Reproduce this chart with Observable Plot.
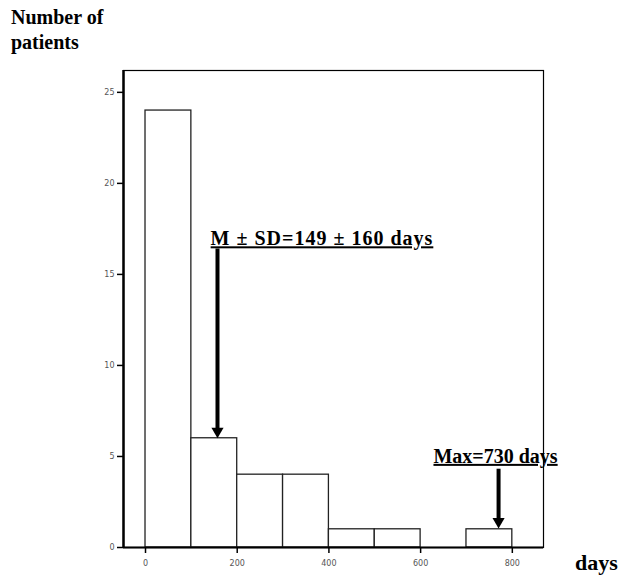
<!DOCTYPE html>
<html><head><meta charset="utf-8">
<script src="https://cdn.jsdelivr.net/npm/d3@7"></script>
<script src="https://cdn.jsdelivr.net/npm/@observablehq/plot@0.6"></script>
<style>
body{margin:0;background:#fff;}
#wrap{position:relative;width:631px;height:577px;}
.lab{position:absolute;font-family:"Liberation Serif","DejaVu Serif",serif;font-weight:bold;font-size:20px;line-height:25px;color:#000;}
</style></head><body>
<div id="wrap">
<div class="lab" style="left:11px;top:5px;">Number of<br>patients</div>
<div class="lab" style="left:575px;top:550px;font-size:22px;">days</div>
</div>
<script>
const binStart = [0, 100, 200, 300, 400, 500, 600, 700];
const binEnd   = [100, 200, 300, 400, 500, 600, 700, 800];
const counts   = [24, 6, 4, 4, 1, 1, 0, 1];
const xTicks = [0, 200, 400, 600, 800];
const yTicks = [0, 5, 10, 15, 20, 25];
const noteText = ["M \u00b1 SD=149 \u00b1 160 days", "Max=730 days"];
const noteX = [142, 628];
const noteY = [16.95, 5.0];
const arrowX = [157, 770];
const arrowFrom = [16.4, 4.3];
const arrowTo = [6.0, 1.05];

const bars = binStart.map((s, i) => ({x1: s, x2: binEnd[i], y: counts[i]})).filter(d => d.y > 0);
const notes = noteText.map((t, i) => ({t, x: noteX[i], y: noteY[i]}));
const arrows = arrowX.map((x, i) => ({x, y1: arrowFrom[i], y2: arrowTo[i]}));

const chart = Plot.plot({
  width: 631, height: 577,
  marginLeft: 123, marginRight: 88, marginTop: 70, marginBottom: 30,
  x: {domain: [-48, 868], ticks: xTicks, tickSize: 6, label: null},
  y: {domain: [0, 26.2], ticks: yTicks, tickSize: 6, label: null},
  style: {fontFamily: "DejaVu Sans", fontSize: "8px", color: "#000", background: "#fff"},
  marks: [
    Plot.rectY(bars, {x1: "x1", x2: "x2", y: "y", fill: "#fff", stroke: "#222", strokeWidth: 1.3, inset: 0}),
    Plot.frame({stroke: "#000", strokeWidth: 1.2}),
    Plot.axisX({ticks: xTicks, tickSize: 6, tickPadding: 7, fill: "#555", stroke: "#000", strokeWidth: 1.5}),
    Plot.axisY({ticks: yTicks, tickSize: 6, tickPadding: 3, fill: "#555", stroke: "#000", strokeWidth: 1.5}),
    Plot.ruleY([0], {stroke: "#000", strokeWidth: 2}),
    Plot.ruleX([-48], {stroke: "#000", strokeWidth: 2.5}),
    Plot.ruleX(arrows, {x: "x", y1: "y1", y2: "y2", stroke: "#000", strokeWidth: 4, insetBottom: 8}),
    Plot.dot(arrows, {x: "x", y: "y2", symbol: "triangle", rotate: 180, r: 4.5, fill: "#000", stroke: null, dy: -7}),
    Plot.text(notes, {x: "x", y: "y", text: "t", textAnchor: "start", fontFamily: "Liberation Serif", fontWeight: "bold", fontSize: 20, fill: "#000"})
  ]
});
chart.style.position = "absolute";
chart.style.left = "0"; chart.style.top = "0";
chart.querySelectorAll("text").forEach(t => {
  if (noteText.includes(t.textContent)) {
    t.setAttribute("text-decoration", "underline");
    if (t.textContent === noteText[0]) t.setAttribute("letter-spacing", "1");
  }
});
document.getElementById("wrap").prepend(chart);
</script>
</body></html>
